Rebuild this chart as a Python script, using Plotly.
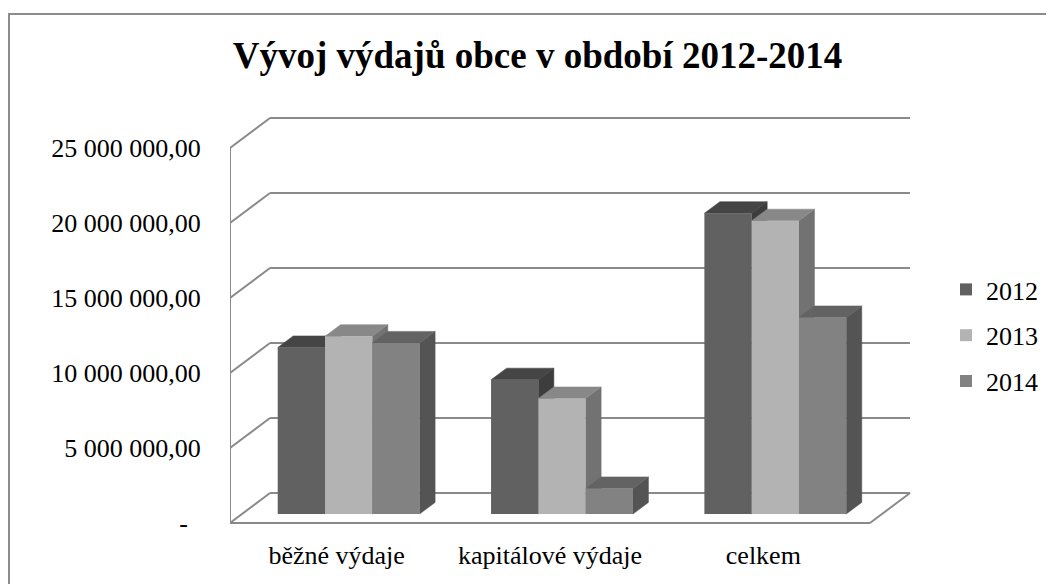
import plotly.graph_objects as go

# ---------------- data ----------------
categories = ["běžné výdaje", "kapitálové výdaje", "celkem"]
years = ["2012", "2013", "2014"]
v2012 = [11_100_000, 8_950_000, 20_050_000]
v2013 = [11_850_000, 7_700_000, 19_550_000]
v2014 = [11_400_000, 1_700_000, 13_100_000]
tick_values = [0, 5_000_000, 10_000_000, 15_000_000, 20_000_000, 25_000_000]
tick_labels = ["-\u00a0\u00a0", "5 000 000,00", "10 000 000,00", "15 000 000,00",
               "20 000 000,00", "25 000 000,00"]
title = "Vývoj výdajů obce v období 2012-2014"

series = [v2012, v2013, v2014]
front_cols = ["#616161", "#b3b3b3", "#828282"]
top_cols = ["#454545", "#888888", "#636363"]
side_cols = ["#3d3d3d", "#727272", "#545454"]

# ---------------- geometry (figure pixels -> data units) ----------------
# the page body adds an 8px margin, so the figure is drawn 8px smaller
W, H = 1046, 576
L, R, T, B = 222, 1046, 102, 522
FLOOR_Y = 515                      # pixel of value 0 on the front plane
CAT_PX = 640 / 3                   # pixels per category
VAL_PX = 15e-6                     # pixels per unit of value

def du(px):
    return px / CAT_PX

def dv(px):
    return px / VAL_PX

x_range = [-0.5, -0.5 + du(R - L)]
y_range = [dv(FLOOR_Y - B), dv(FLOOR_Y - T)]

wall_dx, wall_dy = du(40), dv(30)
plane_dx, plane_dy = du(12), dv(9)
depth_dx, depth_dy = du(15.5), dv(11.6)
bar_w = du(47.3)
n = len(categories)
xpos = list(range(n))

fig = go.Figure()

# side and top faces (drawn left to right, under the front faces)
for i, vals in enumerate(series):
    off = plane_dx + (i - 1.5) * bar_w
    sx, sy, tx, ty = [], [], [], []
    for k, v in zip(xpos, vals):
        xl = k + off
        xr_ = xl + bar_w
        b = plane_dy
        t = plane_dy + v
        sx += [xr_, xr_, xr_ + depth_dx, xr_ + depth_dx, xr_, None]
        sy += [b, t, t + depth_dy, b + depth_dy, b, None]
        tx += [xl, xr_, xr_ + depth_dx, xl + depth_dx, xl, None]
        ty += [t, t, t + depth_dy, t + depth_dy, t, None]
    fig.add_trace(go.Scatter(x=sx, y=sy, mode="lines", fill="toself",
                             fillcolor=side_cols[i], line=dict(color=side_cols[i], width=0.5),
                             showlegend=False, hoverinfo="skip", xaxis="x", yaxis="y"))
    fig.add_trace(go.Scatter(x=tx, y=ty, mode="lines", fill="toself",
                             fillcolor=top_cols[i], line=dict(color=top_cols[i], width=0.5),
                             showlegend=False, hoverinfo="skip", xaxis="x", yaxis="y"))

# front faces as real bars on an overlaid subplot (above the faces)
for i, (yr, vals) in enumerate(zip(years, series)):
    fig.add_trace(go.Bar(
        x=xpos, y=vals, base=plane_dy, name=yr,
        offset=plane_dx + (i - 1.5) * bar_w, width=bar_w,
        marker=dict(color=front_cols[i], line=dict(width=0)),
        legendgroup=yr, xaxis="x2", yaxis="y2",
        hovertemplate="%{x}<br>" + yr + ": %{y:,.2f}<extra></extra>",
    ))

# 3D frame: left wall, back wall gridlines, floor
grid_col = "#8a8a8a"
shapes = []
for v in tick_values:
    shapes.append(dict(type="line", xref="x", yref="y", x0=-0.5, y0=v,
                       x1=-0.5 + wall_dx, y1=v + wall_dy,
                       line=dict(color=grid_col, width=2), layer="below"))
    shapes.append(dict(type="line", xref="x", yref="y", x0=-0.5 + wall_dx, y0=v + wall_dy,
                       x1=n - 0.5 + wall_dx, y1=v + wall_dy,
                       line=dict(color=grid_col, width=2), layer="below"))
shapes.append(dict(type="line", xref="x", yref="y", x0=-0.5, y0=0, x1=-0.5, y1=tick_values[-1],
                   line=dict(color=grid_col, width=2), layer="below"))
shapes.append(dict(type="line", xref="x", yref="y", x0=-0.5, y0=0, x1=n - 0.5, y1=0,
                   line=dict(color=grid_col, width=2), layer="below"))
shapes.append(dict(type="line", xref="x", yref="y", x0=n - 0.5, y0=0, x1=n - 0.5 + wall_dx,
                   y1=wall_dy, line=dict(color=grid_col, width=2), layer="below"))
# outer chart border
pw, ph = R - L, B - T
shapes.append(dict(type="rect", xref="paper", yref="paper",
                   x0=(1 - L) / pw, x1=(1070 - L) / pw,
                   y0=(B - 600) / ph, y1=(B - 6) / ph,
                   line=dict(color="#8c8c8c", width=2), fillcolor="rgba(0,0,0,0)", layer="below"))

font_family = "Liberation Serif, Times New Roman, serif"
axis_common = dict(showgrid=False, zeroline=False, showline=False)
fig.update_layout(
    width=W, height=H,
    margin=dict(l=L, r=W - R, t=T, b=H - B, autoexpand=False),
    paper_bgcolor="white", plot_bgcolor="rgba(0,0,0,0)",
    barmode="overlay",
    font=dict(family=font_family, size=26, color="black"),
    title=dict(text="<b>" + title + "</b>", x=529.5 / W, xref="container", xanchor="center",
               y=1 - 47 / H, yref="container", yanchor="middle",
               font=dict(family=font_family, size=37, color="black")),
    xaxis=dict(range=x_range, tickvals=xpos, ticktext=categories, ticks="outside",
               ticklen=2, tickcolor="rgba(0,0,0,0)", **axis_common),
    yaxis=dict(range=y_range, tickvals=tick_values, ticktext=tick_labels, ticks="outside",
               ticklen=23, tickcolor="rgba(0,0,0,0)", **axis_common),
    xaxis2=dict(range=x_range, overlaying="x", visible=False, **axis_common),
    yaxis2=dict(range=y_range, overlaying="y", visible=False, **axis_common),
    legend=dict(x=(938 - L) / pw, xanchor="left", y=(B - 258) / ph, yanchor="top",
                traceorder="grouped", tracegroupgap=9, bgcolor="rgba(0,0,0,0)",
                font=dict(family=font_family, size=26)),
    shapes=shapes,
    showlegend=True,
)

fig.write_html("out.html")
